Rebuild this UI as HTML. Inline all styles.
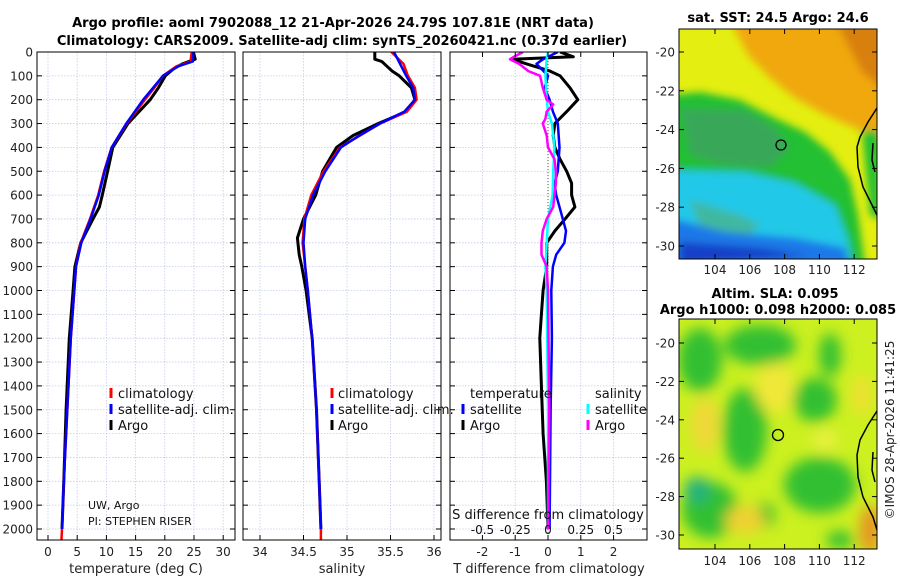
<!DOCTYPE html>
<html><head><meta charset="utf-8"><style>
html,body{margin:0;padding:0;background:#fff;}
svg{display:block;font-family:"DejaVu Sans","Liberation Sans",sans-serif;}
</style></head><body>
<svg id="chart" width="900" height="580" viewBox="0 0 900 580" xmlns="http://www.w3.org/2000/svg">
<defs>
<clipPath id="c1"><rect x="37" y="52" width="198" height="488"/></clipPath>
<clipPath id="c2"><rect x="243" y="52" width="198" height="488"/></clipPath>
<clipPath id="c3"><rect x="450" y="52" width="197" height="488"/></clipPath>
<clipPath id="m1"><rect x="679" y="29" width="198" height="230"/></clipPath>
<clipPath id="m2"><rect x="679" y="319" width="198" height="230"/></clipPath>
<filter id="bl" x="-20%" y="-20%" width="140%" height="140%"><feGaussianBlur stdDeviation="4"/></filter>
<filter id="bl2" x="-30%" y="-30%" width="160%" height="160%"><feGaussianBlur stdDeviation="7"/></filter>
</defs>
<g font-weight="bold" font-size="13" text-anchor="middle">
<text x="333" y="27">Argo profile: aoml 7902088_12 21-Apr-2026 24.79S 107.81E (NRT data)</text>
<text x="342" y="45">Climatology: CARS2009. Satellite-adj clim: synTS_20260421.nc (0.37d earlier)</text>
</g>
<g id="grids"></g>
<g id="marks"></g>
<g id="axes"></g>

<!-- SST map -->
<g clip-path="url(#m1)">
<rect x="679" y="29" width="198" height="230" fill="#e4ee10"/>
<g filter="url(#bl)">
<polygon points="730,20 890,20 890,145 855,128 820,112 795,98 770,78 748,55" fill="#f0a810"/>
<polygon points="835,20 890,20 890,95 862,72" fill="#d88010"/>
<polygon points="670,95 700,92 740,100 775,118 805,132 830,152 850,180 858,215 865,265 670,265" fill="#20c030"/>
<polygon points="680,108 745,110 775,128 790,148 770,168 720,165 690,155" fill="#38a858"/>
<polygon points="670,170 745,172 795,183 835,205 848,240 852,265 670,265" fill="#20c8e8"/>
<polygon points="690,200 740,215 760,225 745,238 700,228" fill="#40b8a0"/>
<polygon points="670,218 725,232 795,238 845,248 850,265 670,265" fill="#1a78e8"/>
<polygon points="680,242 760,248 810,256 680,265" fill="#1240c8"/>
<polygon points="862,130 880,130 880,220 870,215" fill="#20c030"/>
</g>
</g>
<rect x="679" y="29" width="198" height="230" fill="none" stroke="#000" stroke-width="1"/>
<path d="M877,108 L868,122 L860,137 L857,147 L858,167 L863,187 L873,207 L877,215" fill="none" stroke="#000" stroke-width="1.5"/>
<path d="M873,143 L872,160 L875,172" fill="none" stroke="#000" stroke-width="1.5"/>
<circle cx="781" cy="145" r="5" fill="none" stroke="#000" stroke-width="1.3"/>
<text x="778" y="22" font-size="13" font-weight="bold" text-anchor="middle">sat. SST: 24.5 Argo: 24.6</text>

<!-- SLA map -->
<g clip-path="url(#m2)">
<rect x="679" y="319" width="198" height="230" fill="#ccf020"/>
<g filter="url(#bl2)">
<ellipse cx="700" cy="360" rx="22" ry="32" fill="#30c030"/>
<ellipse cx="760" cy="345" rx="36" ry="20" fill="#30c030"/>
<ellipse cx="745" cy="430" rx="22" ry="42" fill="#30c030"/>
<ellipse cx="710" cy="510" rx="28" ry="28" fill="#30c030"/>
<ellipse cx="697" cy="490" rx="13" ry="13" fill="#20b080"/>
<ellipse cx="815" cy="400" rx="22" ry="22" fill="#30c030"/>
<ellipse cx="830" cy="355" rx="11" ry="22" fill="#30c030"/>
<ellipse cx="820" cy="485" rx="36" ry="28" fill="#30c030"/>
<ellipse cx="765" cy="515" rx="10" ry="12" fill="#30c030"/>
<ellipse cx="840" cy="540" rx="14" ry="9" fill="#30c030"/>
<ellipse cx="775" cy="388" rx="20" ry="25" fill="#f0e838"/>
<ellipse cx="705" cy="425" rx="14" ry="28" fill="#f0d838"/>
<ellipse cx="745" cy="520" rx="20" ry="14" fill="#f0d030"/>
<ellipse cx="870" cy="530" rx="10" ry="25" fill="#e89020"/>
<ellipse cx="862" cy="395" rx="10" ry="20" fill="#f0e030"/>
<ellipse cx="825" cy="440" rx="12" ry="12" fill="#e8f040"/>
</g>
</g>
<rect x="679" y="319" width="198" height="230" fill="none" stroke="#000" stroke-width="1"/>
<path d="M877,411 L868,425 L860,440 L857,455 L858,477 L863,497 L873,517 L877,530" fill="none" stroke="#000" stroke-width="1.5"/>
<path d="M873,452 L872,470 L875,482" fill="none" stroke="#000" stroke-width="1.5"/>
<circle cx="778" cy="435" r="5.5" fill="none" stroke="#000" stroke-width="1.3"/>
<g font-size="13" font-weight="bold" text-anchor="middle">
<text x="775" y="298">Altim. SLA: 0.095</text>
<text x="778" y="314">Argo h1000: 0.098 h2000: 0.085</text>
</g>
<text transform="translate(894,430) rotate(-90)" font-size="12" text-anchor="middle" fill="#222">©IMOS 28-Apr-2026 11:41:25</text>
<g id="mapaxes"></g>
</svg>
<script>
// ---------- data ----------
const tDepth = [0,40,60,100,150,200,300,400,500,600,700,800,900,1000,1200,1500,1800,2000,2050];
const tClim  = [24.6,24.4,22.0,19.7,18.2,16.6,13.5,10.9,9.6,8.6,7.2,5.6,4.8,4.5,3.9,3.3,2.7,2.4,2.3];
const tSatDepth = [0,40,60,100,150,200,300,400,500,600,700,800,900,1000,1200,1500,1800,2000];
const tSat   = [24.9,24.8,22.3,19.7,18.0,16.3,13.4,10.9,9.7,8.7,7.3,5.7,4.8,4.5,3.9,3.3,2.7,2.4];
const tArgoDepth = [0,30,50,70,100,150,200,250,300,400,500,600,650,700,800,900,1000,1200,1500,1800,2000];
const tArgo  = [24.9,25.2,23.0,21.5,20.1,18.9,17.5,15.6,13.7,11.1,10.2,9.3,8.8,7.7,5.6,4.6,4.3,3.65,3.1,2.7,2.4];

const sDepth = [0,50,100,150,200,250,300,350,400,500,600,700,800,900,1000,1200,1500,1800,2000,2050];
const sClim  = [35.51,35.65,35.70,35.78,35.80,35.69,35.38,35.15,34.92,34.73,34.59,34.51,34.49,34.52,34.55,34.60,34.65,34.68,34.70,34.70];
const sSatDepth = [0,50,100,150,200,250,300,350,400,500,600,700,800,900,1000,1200,1500,1800,2000];
const sSat   = [35.54,35.61,35.68,35.76,35.78,35.66,35.38,35.14,34.93,34.75,34.61,34.52,34.50,34.52,34.55,34.60,34.65,34.68,34.70];
const sArgoDepth = [0,30,40,60,80,100,150,200,250,300,350,400,500,600,700,780,850,900,1000,1200,1500,1800,2000];
const sArgo  = [35.32,35.32,35.40,35.46,35.52,35.60,35.74,35.78,35.68,35.36,35.07,34.88,34.72,34.64,34.50,34.43,34.45,34.48,34.53,34.60,34.65,34.68,34.70];

const dTArgoDepth = [0,20,30,50,80,100,150,200,250,300,350,400,450,500,550,600,650,700,750,800,900,1000,1100,1200,1400,1600,1800,2000];
const dTArgo = [0.37,0.77,-1.1,-0.65,0.06,0.37,0.67,0.91,0.57,0.21,0.16,0.21,0.37,0.57,0.72,0.72,0.82,0.52,0.21,-0.04,-0.04,-0.15,-0.2,-0.25,-0.2,-0.15,-0.05,0.0];
const dTSatDepth = [0,30,50,100,150,200,250,300,400,500,550,600,700,750,800,850,900,1000,1200,1500,2000];
const dTSat  = [0.3,-0.15,-0.35,0.0,-0.1,0.05,0.15,0.3,0.35,0.3,0.2,0.25,0.45,0.55,0.5,0.25,0.15,0.1,0.12,0.08,0.05];
const dSArgoDepth = [0,20,30,50,80,100,150,200,220,250,280,300,350,400,450,500,550,600,650,700,750,800,850,900,1000,1500,2000];
const dSArgo = [-0.19,-0.26,-0.29,-0.22,-0.15,-0.06,-0.04,-0.01,0.04,-0.01,-0.02,-0.04,-0.01,0.0,0.05,0.06,0.06,0.05,0.04,-0.01,-0.04,-0.05,-0.05,-0.01,0.0,0.01,0.0];
const dSSatDepth = [0,30,100,200,250,300,400,500,600,700,800,900,1000,1500,2000];
const dSSat  = [0.0,-0.01,-0.02,-0.01,0.0,0.03,0.05,0.04,0.035,0.0,-0.01,-0.02,-0.01,0.0,0.0];

const depthTicks = [0,100,200,300,400,500,600,700,800,900,1000,1100,1200,1300,1400,1500,1600,1700,1800,1900,2000];
const tTicks = [0,5,10,15,20,25,30];
const sTicks = [34,34.5,35,35.5,36];
const sTickLabels = ["34","34.5","35","35.5","36"];
const dTTicks = [-2,-1,0,1,2];
const dSTicks = [-0.5,-0.25,0,0.25,0.5];
const dSTickLabels = ["-0.5","-0.25","0","0.25","0.5"];
const latTicks = [-20,-22,-24,-26,-28,-30];
const lonTicks = [104,106,108,110,112];

// ---------- scales ----------
const yD = d => 52 + d*0.2385;
const xT = v => 48 + v*5.84;
const xS = v => 260 + (v-34)*87;
const xDT = v => 548 + v*32.8;
const xDS = v => 548 + v*131;
const yLat1 = v => 52 + (-20 - v)*19.4;
const yLat2 = v => 343 + (-20 - v)*19.2;
const xLon = v => 715 + (v-104)*17.4;

const NS = "http://www.w3.org/2000/svg";
function mk(tag, attrs, parent){const e=document.createElementNS(NS,tag);for(const k in attrs)e.setAttribute(k,attrs[k]);parent.appendChild(e);return e;}
const grids=document.getElementById('grids'), marks=document.getElementById('marks'), axes=document.getElementById('axes');

const panels=[{x:37,w:198,ticks:tTicks,labels:tTicks.map(String),sx:xT,name:'temperature'},
              {x:243,w:198,ticks:sTicks,labels:sTickLabels,sx:xS,name:'salinity'},
              {x:450,w:197,ticks:dTTicks,labels:dTTicks.map(String),sx:xDT,name:'difference'}];
panels.forEach(p=>{
  const g=mk('g',{},grids);
  
  
  depthTicks.forEach(d=>{mk('line',{x1:p.x,x2:p.x+p.w,y1:yD(d),y2:yD(d),stroke:'#c4cce8','stroke-width':0.8,'stroke-dasharray':'1.5,1.5'},g);});
  p.ticks.forEach(t=>{mk('line',{x1:p.sx(t),x2:p.sx(t),y1:52,y2:540,stroke:'#c4cce8','stroke-width':0.8,'stroke-dasharray':'1.5,1.5'},g);});
  const a=mk('g',{},axes);
  
  
  mk('rect',{x:p.x,y:52,width:p.w,height:488,fill:'none',stroke:'#000','stroke-width':1},a);
  depthTicks.forEach(d=>{
    mk('line',{x1:p.x,x2:p.x+5,y1:yD(d),y2:yD(d),stroke:'#000'},a);
    mk('line',{x1:p.x+p.w-5,x2:p.x+p.w,y1:yD(d),y2:yD(d),stroke:'#000'},a);
  });
  p.ticks.forEach((t,i)=>{
    mk('line',{x1:p.sx(t),x2:p.sx(t),y1:535,y2:540,stroke:'#000'},a);
    const tx=mk('text',{x:p.sx(t),y:556,'font-size':12,'text-anchor':'middle',fill:'#222'},a);
    tx.textContent=p.labels[i];
  });
});
const dl=mk('g',{},axes);


depthTicks.forEach(d=>{const t=mk('text',{x:33,y:yD(d)+4.5,'font-size':12,'text-anchor':'end',fill:'#222'},dl);t.textContent=String(d);});
[['temperature (deg C)',136,'temperature-axis-title'],['salinity',342,'salinity-axis-title'],['T difference from climatology',549,'t-diff-axis-title']].forEach(a=>{
  const t=mk('text',{x:a[1],y:573,'font-size':13,'text-anchor':'middle',fill:'#222'},axes);
  
  
  t.textContent=a[0];
});
const st=mk('text',{x:548,y:519,'font-size':13,'text-anchor':'middle',fill:'#111'},axes);


st.textContent='S difference from climatology';
dSTicks.forEach((v,i)=>{
  mk('line',{x1:xDS(v),x2:xDS(v),y1:52,y2:57,stroke:'#000'},axes);
  const t=mk('text',{x:xDS(v),y:534,'font-size':12,'text-anchor':'middle',fill:'#111'},axes);
  
  
  t.textContent=dSTickLabels[i];
});
const zl=mk('line',{x1:xDT(0),x2:xDT(0),y1:52,y2:540,stroke:'#406040','stroke-width':1,'stroke-dasharray':'1,2'},marks);



function line(depths, vals, sx, color, w, clip, name){
  const d=depths.map((dd,i)=>(i?'L':'M')+sx(vals[i]).toFixed(1)+','+yD(dd).toFixed(1)).join(' ');
  const p=mk('path',{d:d,fill:'none',stroke:color,'stroke-width':w,'stroke-linejoin':'round','clip-path':'url(#'+clip+')'},marks);
  
  
}
line(tArgoDepth,tArgo,xT,'#000',3,'c1','temp-argo-line');
line(tDepth,tClim,xT,'#f00',2.5,'c1','temp-climatology-line');
line(tSatDepth,tSat,xT,'#00f',2.5,'c1','temp-satellite-line');
line(sArgoDepth,sArgo,xS,'#000',3,'c2','sal-argo-line');
line(sDepth,sClim,xS,'#f00',2.5,'c2','sal-climatology-line');
line(sSatDepth,sSat,xS,'#00f',2.5,'c2','sal-satellite-line');
line(dTArgoDepth,dTArgo,xDT,'#000',3,'c3','t-diff-argo-line');
line(dTSatDepth,dTSat,xDT,'#00f',2.5,'c3','t-diff-satellite-line');
line(dSSatDepth,dSSat,xDS,'#0ff',2.5,'c3','s-diff-satellite-line');
line(dSArgoDepth,dSArgo,xDS,'#f0f',2.5,'c3','s-diff-argo-line');

function legend(x,items,name){
  const g=mk('g',{},axes);
  
  
  items.forEach((it,i)=>{
    const y=393+i*16;
    if(it[1]) mk('rect',{x:x-1.5,y:y-5,width:3,height:10,fill:it[1]},g);
    const t=mk('text',{x:x+it[2],y:y+5,'font-size':13,fill:'#111'},g);
    t.textContent=it[0];
  });
}
legend(111,[['climatology','#f00',7],['satellite-adj. clim.','#00f',7],['Argo','#000',7]],'temperature-legend');
legend(332,[['climatology','#f00',6],['satellite-adj. clim.','#00f',6],['Argo','#000',6]],'salinity-legend');
legend(463,[['temperature',null,7],['satellite','#00f',7],['Argo','#000',7]],'t-diff-legend');
legend(588,[['salinity',null,7],['satellite','#0ff',7],['Argo','#f0f',7]],'s-diff-legend');
const cr=mk('g',{'font-size':11,fill:'#111'},axes);


mk('text',{x:88,y:509},cr).textContent='UW, Argo';
mk('text',{x:88,y:525},cr).textContent='PI: STEPHEN RISER';

const ma=document.getElementById('mapaxes');
[[yLat1,29,259,274],[yLat2,319,549,565]].forEach(m=>{
  latTicks.forEach(v=>{
    const y=m[0](v);
    mk('line',{x1:679,x2:684,y1:y,y2:y,stroke:'#000'},ma);
    mk('line',{x1:872,x2:877,y1:y,y2:y,stroke:'#000'},ma);
    const t=mk('text',{x:675,y:y+4.5,'font-size':12,'text-anchor':'end',fill:'#222'},ma);
    
    
    t.textContent=String(v);
  });
  lonTicks.forEach(v=>{
    const x=xLon(v);
    mk('line',{x1:x,x2:x,y1:m[2]-5,y2:m[2],stroke:'#000'},ma);
    mk('line',{x1:x,x2:x,y1:m[1],y2:m[1]+5,stroke:'#000'},ma);
    const t=mk('text',{x:x,y:m[3],'font-size':12,'text-anchor':'middle',fill:'#222'},ma);
    
    
    t.textContent=String(v);
  });
});
</script>
</body></html>
